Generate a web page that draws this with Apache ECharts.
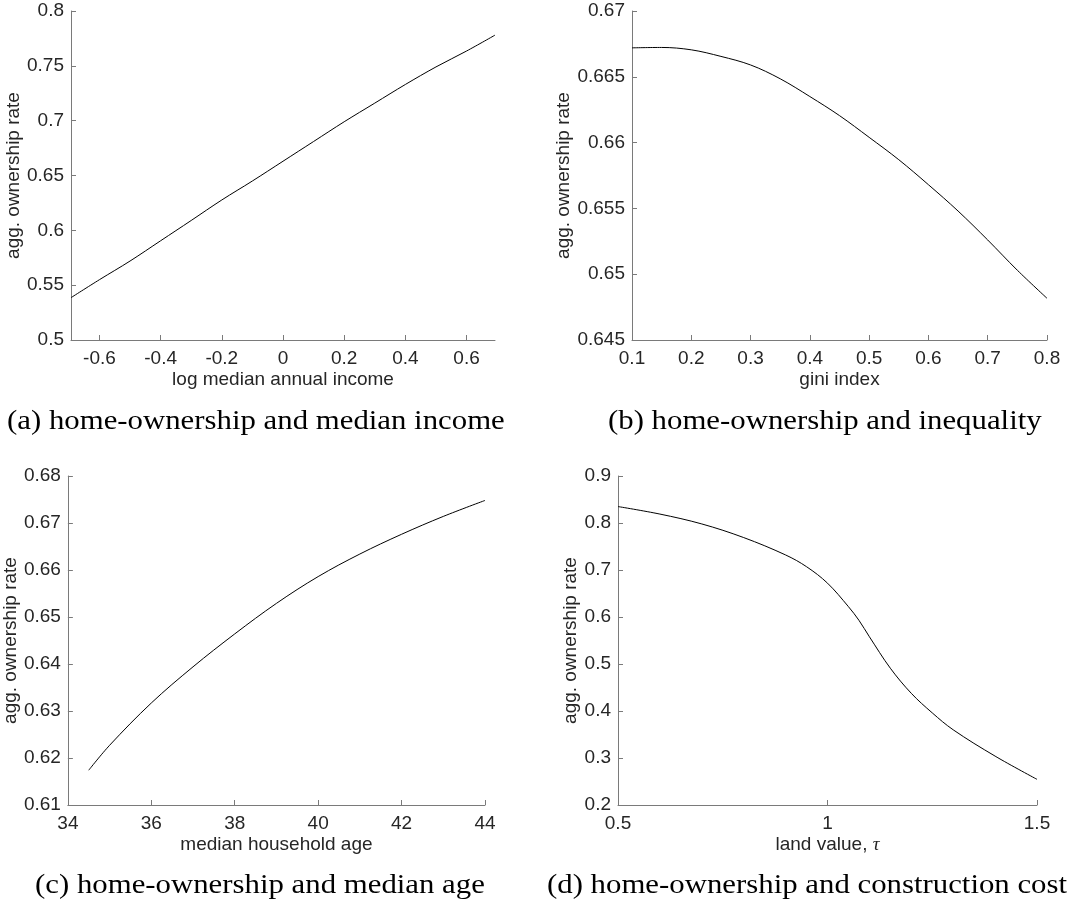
<!DOCTYPE html>
<html>
<head>
<meta charset="utf-8">
<script src="https://cdn.jsdelivr.net/npm/echarts@6/dist/echarts.min.js"></script>
<style>
html,body{margin:0;padding:0;background:#fff;}
#chart{width:1069px;height:907px;}
</style>
</head>
<body>
<div id="chart"></div>
<script>
// Panel (a): log median annual income vs agg. ownership rate
var incomeX = [-0.693, -0.6, -0.5, -0.4, -0.3, -0.2, -0.1, 0, 0.1, 0.2, 0.3, 0.4, 0.5, 0.6, 0.693];
var incomeY = [0.5386, 0.555, 0.572, 0.5905, 0.609, 0.6277, 0.645, 0.663, 0.681, 0.699, 0.716, 0.733, 0.749, 0.7635, 0.778];
var incomeTicks = [-0.6, -0.4, -0.2, 0, 0.2, 0.4, 0.6];

// Panel (b): gini index
var giniX = [0.1, 0.15, 0.2, 0.25, 0.3, 0.35, 0.4, 0.45, 0.5, 0.55, 0.6, 0.65, 0.7, 0.75, 0.8];
var giniY = [0.66720, 0.66723, 0.66705, 0.66655, 0.66590, 0.66485, 0.66350, 0.66205, 0.66040, 0.65870, 0.65680, 0.65480, 0.65260, 0.65030, 0.64817];

// Panel (c): median household age
var ageX = [34.5, 35, 36, 37, 38, 39, 40, 41, 42, 43, 44];
var ageY = [0.6174, 0.6227, 0.6317, 0.6394, 0.6464, 0.6529, 0.6586, 0.6634, 0.6676, 0.6714, 0.6748];

// Panel (d): land value tau
var landX = [0.5, 0.6, 0.7, 0.8, 0.9, 0.95, 1.0, 1.05, 1.075, 1.1, 1.15, 1.2, 1.25, 1.3, 1.4, 1.5];
var landY = [0.835, 0.819, 0.798, 0.769, 0.732, 0.707, 0.672, 0.622, 0.593, 0.558, 0.491, 0.4376, 0.396, 0.360, 0.304, 0.2546];

var captions = [
  '(a) home-ownership and median income',
  '(b) home-ownership and inequality',
  '(c) home-ownership and median age',
  '(d) home-ownership and construction cost'
];
var xNames = ['log median annual income', 'gini index', 'median household age', 'land value, {i|\u03c4}'];
var yName = 'agg. ownership rate';

function pairs(xs, ys){ return xs.map(function(x,i){ return [x, ys[i]]; }); }

var axisColor = '#7a7a7a';
var textColor = '#262626';
var tickFont = 'Liberation Sans';
var fs = 19;

function fmt(v){ return String(parseFloat(v.toFixed(4))); }

function xAxisCfg(gi, name, min, max, interval, nameGap, custom){
  var a = {
    type:'value', gridIndex:gi, min:min, max:max,
    name:name, nameLocation:'middle', nameGap:nameGap,
    nameTextStyle:{color:textColor, fontSize:fs, fontFamily:tickFont,
      rich:{i:{fontStyle:'italic', fontFamily:'Liberation Serif', fontSize:fs, color:textColor}}},
    axisLine:{show:true, onZero:false, lineStyle:{color:axisColor, width:1}},
    axisTick:{show:true, inside:true, length:5, lineStyle:{color:axisColor, width:1}},
    axisLabel:{color:textColor, fontSize:fs, fontFamily:tickFont, margin:9, formatter:fmt},
    splitLine:{show:false}
  };
  if (custom) {
    a.axisTick.customValues = custom;
    a.axisLabel.customValues = custom;
  } else {
    a.interval = interval;
  }
  return a;
}
function yAxisCfg(gi, min, max, interval, nameGap){
  return {
    type:'value', gridIndex:gi, min:min, max:max, interval:interval,
    name:yName, nameLocation:'middle', nameGap:nameGap, nameRotate:90,
    nameTextStyle:{color:textColor, fontSize:fs, fontFamily:tickFont},
    axisLine:{show:true, onZero:false, lineStyle:{color:axisColor, width:1}},
    axisTick:{show:true, inside:true, length:5, lineStyle:{color:axisColor, width:1}},
    axisLabel:{color:textColor, fontSize:fs, fontFamily:tickFont, margin:7, formatter:fmt},
    splitLine:{show:false}
  };
}
function lineSeries(i, data){
  return {
    type:'line', xAxisIndex:i, yAxisIndex:i, data:data,
    showSymbol:false, smooth:0.35,
    lineStyle:{color:'#000', width:1}, silent:true, animation:false
  };
}

var grids = [
  {left:71, top:11, width:424, height:329},
  {left:632, top:11, width:415, height:329},
  {left:61, top:476, width:424, height:329},
  {left:618, top:476, width:419, height:329}
];

function caption(text, x, y){
  return {type:'text', x:x, y:y, scaleX:1.1, silent:true,
    style:{text:text, font:'28px "Liberation Serif"', fill:'#000', textAlign:'left', textVerticalAlign:'middle'}};
}

var option = {
  backgroundColor:'#fff',
  animation:false,
  grid: grids,
  xAxis: [
    xAxisCfg(0, xNames[0], -0.693, 0.693, null, 30, incomeTicks),
    xAxisCfg(1, xNames[1], 0.1, 0.8, 0.1, 30),
    xAxisCfg(2, xNames[2], 34, 44, 2, 30),
    xAxisCfg(3, xNames[3], 0.5, 1.5, 0.5, 30)
  ],
  yAxis: [
    yAxisCfg(0, 0.5, 0.8, 0.05, 42),
    yAxisCfg(1, 0.645, 0.67, 0.005, 52),
    yAxisCfg(2, 0.61, 0.68, 0.01, 40),
    yAxisCfg(3, 0.2, 0.9, 0.1, 33)
  ],
  series: [
    lineSeries(0, pairs(incomeX, incomeY)),
    lineSeries(1, pairs(giniX, giniY)),
    lineSeries(2, pairs(ageX, ageY)),
    lineSeries(3, pairs(landX, landY))
  ],
  graphic: [
    caption(captions[0], 7, 422),
    caption(captions[1], 608, 422),
    caption(captions[2], 35, 886),
    caption(captions[3], 547, 886)
  ]
};

var chart = echarts.init(document.getElementById('chart'), null, {renderer:'canvas'});
chart.setOption(option);
</script>
</body>
</html>
